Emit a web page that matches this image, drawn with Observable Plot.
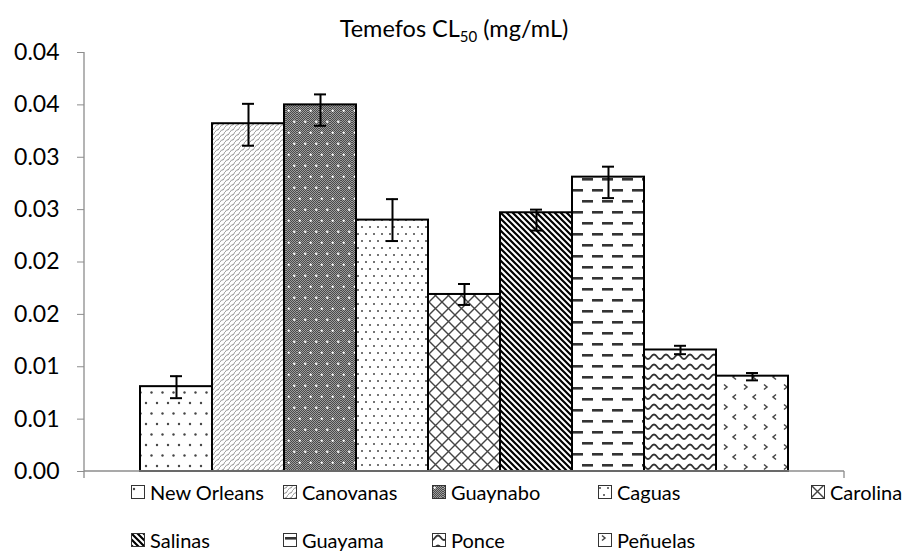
<!DOCTYPE html>
<html>
<head>
<meta charset="utf-8">
<script src="https://cdn.jsdelivr.net/npm/d3@7"></script>
<script src="https://cdn.jsdelivr.net/npm/@observablehq/plot@0.6"></script>
<style>
  html, body { margin: 0; padding: 0; background: #fff; }
  body { width: 908px; height: 558px; position: relative; overflow: hidden; font-family: Lato, "Open Sans", sans-serif; color: #000; }
  #title { height: 42px; text-align: center; font-size: 23.5px; line-height: 1; padding-top: 17px; box-sizing: border-box; }
  #title sub { font-size: 15px; vertical-align: -5px; line-height: 0; }
  #chart svg { display: block; }
  .leg { position: absolute; display: flex; align-items: center; font-size: 20px; white-space: nowrap; }
  .leg svg { margin-right: 5px; }
</style>
</head>
<body>
<svg width="0" height="0" style="position:absolute">
  <defs>
    <pattern id="pDots" width="11" height="21" patternUnits="userSpaceOnUse">
      <rect width="11" height="21" fill="#fff"/>
      <circle cx="3" cy="4" r="1.2" fill="#444"/>
      <circle cx="8.5" cy="14.5" r="1.2" fill="#444"/>
    </pattern>
    <pattern id="pZig" width="5" height="5" patternUnits="userSpaceOnUse">
      <rect width="5" height="5" fill="#fff"/>
      <path d="M0,5 L2,2.6 L3,3.2 L5,0" fill="none" stroke="#999" stroke-width="1"/>
    </pattern>
    <pattern id="pCheck" width="2" height="2" patternUnits="userSpaceOnUse">
      <rect width="2" height="2" fill="#9c9c9c"/>
      <rect width="1" height="1" fill="#4a4a4a"/>
      <rect x="1" y="1" width="1" height="1" fill="#4a4a4a"/>
    </pattern>
    <pattern id="pGrid" width="11" height="22" patternUnits="userSpaceOnUse">
      <rect width="11" height="22" fill="url(#pCheck)"/>
      <path d="M2.75,1.5v2.5M1.5,2.75h2.5M8.25,12.5v2.5M7,13.75h2.5" stroke="#fff" stroke-width="1.1"/>
    </pattern>
    <pattern id="pSmallDots" width="8" height="14" patternUnits="userSpaceOnUse">
      <rect width="8" height="14" fill="#fff"/>
      <circle cx="2" cy="3" r="1" fill="#444"/>
      <circle cx="6" cy="10" r="1" fill="#444"/>
    </pattern>
    <pattern id="pDiamond" width="13" height="13" patternUnits="userSpaceOnUse">
      <rect width="13" height="13" fill="#fff"/>
      <path d="M0,0 L13,13 M13,0 L0,13" stroke="#444" stroke-width="1.4"/>
    </pattern>
    <pattern id="pDiag" width="6" height="6" patternUnits="userSpaceOnUse">
      <rect width="6" height="6" fill="#fff"/>
      <path d="M-1,-1 L7,7 M-1,5 L1,7 M5,-1 L7,1" stroke="#000" stroke-width="2.2"/>
    </pattern>
    <pattern id="pDash" width="20" height="22" patternUnits="userSpaceOnUse">
      <rect width="20" height="22" fill="#fff"/>
      <rect x="2" y="4" width="11" height="2.6" fill="#333"/>
      <rect x="12" y="15" width="11" height="2.6" fill="#333"/>
      <rect x="-8" y="15" width="11" height="2.6" fill="#333"/>
    </pattern>
    <pattern id="pWave" width="12" height="10" patternUnits="userSpaceOnUse">
      <rect width="12" height="10" fill="#fff"/>
      <path d="M0,7 C3,7 3,2.5 6,2.5 C9,2.5 9,7 12,7" fill="none" stroke="#333" stroke-width="1.8"/>
    </pattern>
    <pattern id="pChev" width="20" height="20" patternUnits="userSpaceOnUse">
      <rect width="20" height="20" fill="#fff"/>
      <path d="M4,2.5 L7,5 L4,7.5 M16,12.5 L13,15 L16,17.5" fill="none" stroke="#444" stroke-width="1.5"/>
    </pattern>
  </defs>
</svg>

<div id="title">Temefos CL<sub>50</sub> (mg/mL)</div>
<div id="chart"></div>
<div id="legend"></div>

<script>
// ---- data ----
const names = ["New Orleans", "Canovanas", "Guaynabo", "Caguas", "Carolina", "Salinas", "Guayama", "Ponce", "Peñuelas"];
const values = [0.0081, 0.0332, 0.0350, 0.0240, 0.0169, 0.0247, 0.0281, 0.0116, 0.0091];
const errPlus = [0.0010, 0.0019, 0.0010, 0.0020, 0.0010, 0.0003, 0.0010, 0.0004, 0.0003];
const errMinus = [0.0011, 0.0021, 0.0020, 0.0020, 0.0010, 0.0017, 0.0020, 0.0004, 0.0004];
const yTicks = [0, 0.005, 0.01, 0.015, 0.02, 0.025, 0.03, 0.035, 0.04];
const yTickLabels = ["0.00", "0.01", "0.01", "0.02", "0.02", "0.03", "0.03", "0.04", "0.04"];

// ---- styles (pattern per series) ----
const patternIds = ["pDots", "pZig", "pGrid", "pSmallDots", "pDiamond", "pDiag", "pDash", "pWave", "pChev"];

const data = names.map((name, i) => ({
  name,
  value: values[i],
  lo: values[i] - errMinus[i],
  hi: values[i] + errPlus[i],
  fill: `url(#${patternIds[i]})`
}));

const axisGrey = "#8c8c8c";

function axisLines(index, scales, values, dimensions) {
  const {width, height, marginLeft, marginRight, marginTop, marginBottom} = dimensions;
  const y0 = height - marginBottom;
  const g = d3.create("svg:g").attr("stroke", axisGrey).attr("stroke-width", 1.3);
  g.append("line").attr("x1", marginLeft).attr("x2", marginLeft).attr("y1", marginTop).attr("y2", y0 + 7);
  g.append("line").attr("x1", marginLeft).attr("x2", width - marginRight).attr("y1", y0).attr("y2", y0);
  g.append("line").attr("x1", width - marginRight).attr("x2", width - marginRight).attr("y1", y0).attr("y2", y0 + 7);
  return g.node();
}

const plot = Plot.plot({
  width: 908,
  height: 440,
  marginTop: 10,
  marginBottom: 11,
  marginLeft: 84,
  marginRight: 64,
  style: {fontFamily: "Lato, 'Open Sans', sans-serif", fontSize: "20px", color: "#000", background: "#fff", overflow: "visible"},
  x: {domain: names, paddingInner: 0, paddingOuter: 0.737, axis: null},
  y: {domain: [0, 0.04], axis: null},
  color: {type: "identity"},
  marks: [
    Plot.barY(data, {x: "name", y: "value", fill: "fill", stroke: "#000", strokeWidth: 2}),
    axisLines,
    Plot.axisY({
      ticks: yTicks,
      tickFormat: d => yTickLabels[yTicks.indexOf(d)],
      tickSize: 7,
      tickPadding: 18,
      stroke: axisGrey,
      fill: "#000",
      fontSize: 23
    }),
    Plot.ruleX(data, {x: "name", y1: "lo", y2: "hi", stroke: "#000", strokeWidth: 2}),
    Plot.tickY(data, {x: "name", y: "lo", stroke: "#000", strokeWidth: 2, insetLeft: 30, insetRight: 30}),
    Plot.tickY(data, {x: "name", y: "hi", stroke: "#000", strokeWidth: 2, insetLeft: 30, insetRight: 30})
  ]
});
document.getElementById("chart").appendChild(plot);

// ---- legend (HTML, below the SVG) ----
const colLeft = [131, 283, 432, 598, 811];
const rowTop = [480, 528];
const legend = document.getElementById("legend");
names.forEach((name, i) => {
  const row = i < 5 ? 0 : 1;
  const col = i < 5 ? i : i - 5;
  const item = document.createElement("div");
  item.className = "leg";
  item.style.left = colLeft[col] + "px";
  item.style.top = rowTop[row] + "px";
  item.style.height = "24px";
  item.innerHTML = `<svg width="14" height="14"><rect x="0.5" y="0.5" width="13" height="13" fill="url(#${patternIds[i]})" stroke="#333" stroke-width="1"/></svg><span>${name}</span>`;
  legend.appendChild(item);
});
</script>
</body>
</html>
